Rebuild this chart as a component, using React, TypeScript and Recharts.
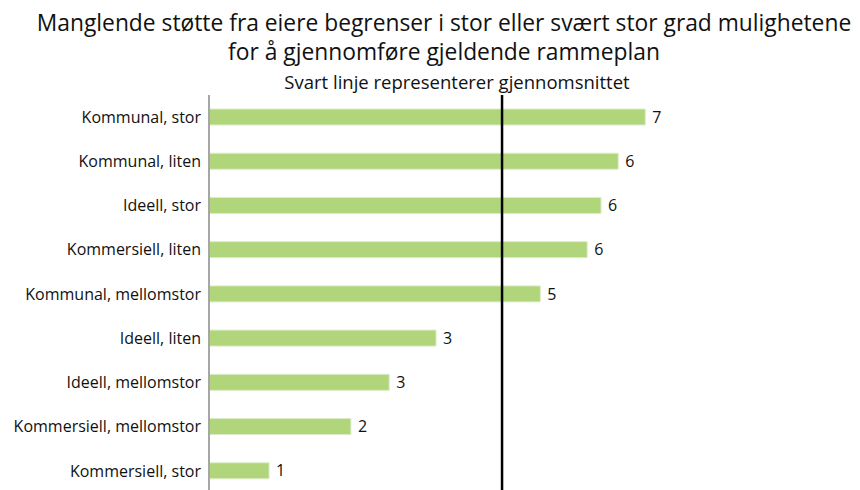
import { BarChart, Bar, XAxis, YAxis, LabelList, ReferenceLine } from "recharts";

const categories = [
  "Kommunal, stor",
  "Kommunal, liten",
  "Ideell, stor",
  "Kommersiell, liten",
  "Kommunal, mellomstor",
  "Ideell, liten",
  "Ideell, mellomstor",
  "Kommersiell, mellomstor",
  "Kommersiell, stor",
];
const values = [6.61, 6.2, 5.94, 5.73, 5.02, 3.44, 2.73, 2.15, 0.91];
const average = 4.44;

const data = categories.map((name, i) => ({ name, value: values[i] }));

const FONT = "'Open Sans', sans-serif";

// the black average line starts at the top of the first bar, not at the plot edge
const AvgLine = (props: any) => (
  <line x1={props.x1} x2={props.x2} y1={props.y1 + 14} y2={props.y2} stroke="#000" strokeWidth={2.5} />
);

export default function App() {
  return (
    <div style={{ position: "absolute", left: 0, top: 0, width: 860, height: 490, overflow: "hidden", background: "#fff", fontFamily: FONT }}>
      <div style={{ position: "absolute", left: 28, width: 832, top: 8, textAlign: "center", fontSize: 22.8, lineHeight: "29px", color: "#111" }}>
        Manglende støtte fra eiere begrenser i stor eller svært stor grad mulighetene
        <br />
        for å gjennomføre gjeldende rammeplan
      </div>
      <div style={{ position: "absolute", left: 54, width: 806, top: 69, textAlign: "center", fontSize: 18.5, color: "#111" }}>
        Svart linje representerer gjennomsnittet
      </div>
      <div style={{ position: "absolute", left: 0, top: 0 }}>
        <BarChart width={860} height={494} data={data} layout="vertical" margin={{ top: 95, right: 57, bottom: 1, left: 9 }}>
          <XAxis type="number" domain={[0, 9]} hide />
          <YAxis
            type="category"
            dataKey="name"
            width={200}
            tickLine={false}
            axisLine={{ stroke: "#a6a6a6", strokeWidth: 2 }}
            tick={{ fontSize: 16, fill: "#111", fontFamily: FONT }}
          />
          <Bar dataKey="value" fill="#b0d57a" stroke="#dcecc8" strokeWidth={1} barSize={16} isAnimationActive={false}>
            <LabelList
              dataKey="value"
              position="right"
              offset={7}
              formatter={(v: any) => Math.round(Number(v))}
              style={{ fontSize: 16, fill: "#111", fontFamily: FONT }}
            />
          </Bar>
          <ReferenceLine x={average} shape={AvgLine} />
        </BarChart>
      </div>
    </div>
  );
}
